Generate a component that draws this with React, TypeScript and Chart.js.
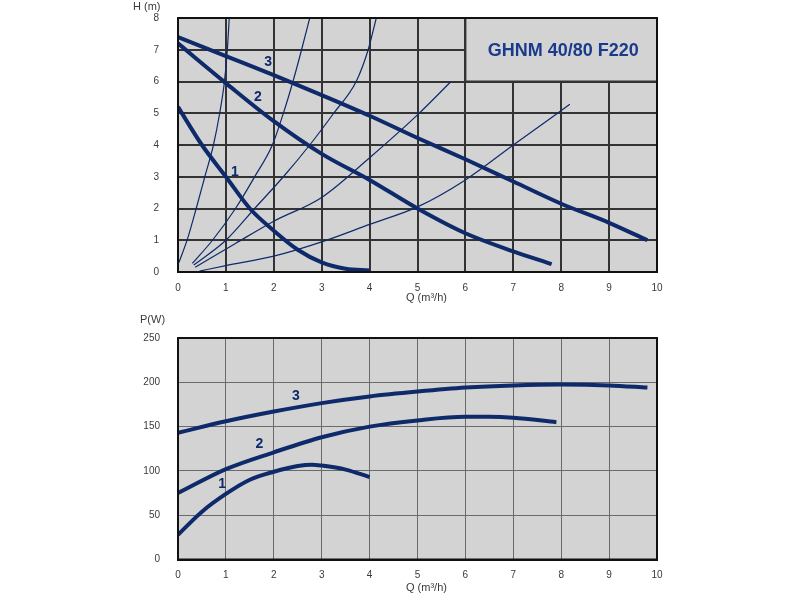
import React, { useEffect, useRef } from "react";
import { Chart, registerables } from "chart.js";

Chart.register(...registerables);

// ---------- Data: H(Q) chart ----------
const qTicks = [0, 1, 2, 3, 4, 5, 6, 7, 8, 9, 10];
const hTicks = [0, 1, 2, 3, 4, 5, 6, 7, 8];
const pTicks = [0, 50, 100, 150, 200, 250];

// speed curves (thick)
const h1Q = [0, 0.5, 1, 1.5, 2, 2.5, 3, 3.5, 4];
const h1H = [5.2, 4.0, 3.0, 2.0, 1.3, 0.7, 0.3, 0.1, 0.05];
const h2Q = [0, 1, 2, 3, 4, 5, 6, 7, 7.8];
const h2H = [7.2, 5.95, 4.75, 3.72, 2.9, 2.0, 1.22, 0.65, 0.25];
const h3Q = [0, 1, 2, 3, 4, 5, 6, 7, 8, 9, 9.8];
const h3H = [7.4, 6.8, 6.2, 5.57, 4.92, 4.22, 3.55, 2.85, 2.15, 1.55, 1.0];

// system curves (thin)
const sAQ = [0.02, 0.2, 0.38, 0.56, 0.74, 0.87, 0.97, 1.03, 1.07];
const sAH = [0.3, 1.05, 2.0, 3.0, 4.0, 5.0, 6.0, 7.0, 8.0];
const sBQ = [0.3, 0.72, 1.2, 1.6, 1.97, 2.2, 2.4, 2.58, 2.75];
const sBH = [0.27, 1.0, 2.0, 3.0, 4.0, 5.0, 6.0, 7.0, 8.0];
const sCQ = [0.33, 1.0, 1.6, 2.2, 2.75, 3.25, 3.72, 3.97, 4.14];
const sCH = [0.22, 1.0, 2.0, 3.0, 4.0, 5.0, 6.0, 7.0, 8.0];
const sDQ = [0.36, 1.2, 2.0, 3.0, 4.0, 5.0, 5.7];
const sDH = [0.15, 0.9, 1.6, 2.35, 3.6, 4.95, 6.0];
const sEQ = [0.45, 1.0, 2.0, 3.0, 4.0, 5.0, 6.0, 7.0, 8.18];
const sEH = [0.03, 0.2, 0.5, 0.95, 1.5, 2.05, 2.9, 4.0, 5.28];

// ---------- Data: P(Q) chart ----------
const p1Q = [0, 0.5, 1, 1.5, 2, 2.5, 2.8, 3, 3.5, 4];
const p1P = [28, 54, 74, 90, 99, 105.5, 107, 106, 101.5, 93];
const p2Q = [0, 1, 2, 3, 4, 5, 6, 6.5, 7, 7.9];
const p2P = [75, 102, 121, 138, 150, 157, 161, 161, 160, 155];
const p3Q = [0, 1, 2, 3, 4, 5, 6, 7, 8, 9, 9.8];
const p3P = [143, 156, 167, 176.5, 184, 189.5, 194, 196.5, 197.5, 196.5, 194];

// labels for curves
const curveNames = ["1", "2", "3"];
const hLabelQ = [1.19, 1.67, 1.88];
const hLabelH = [3.15, 5.5, 6.6];
const pLabelQ = [0.92, 1.7, 2.46];
const pLabelP = [85, 130, 184];

const titleText = "GHNM 40/80 F220";
const titleBoxQ = [6, 10];
const titleBoxH = [6, 8];

const NAVY = "#0f2a6b";
const FONT = "'Liberation Sans', Arial, sans-serif";

const pts = (xs: number[], ys: number[]) => xs.map((x, i) => ({ x, y: ys[i] }));

function lineDs(xs: number[], ys: number[], width: number) {
  return {
    data: pts(xs, ys),
    borderColor: NAVY,
    backgroundColor: NAVY,
    borderWidth: width,
    pointRadius: 0,
    fill: false,
    showLine: true,
    cubicInterpolationMode: "monotone" as const,
    borderCapStyle: "butt" as const,
  };
}

const bgPlugin = {
  id: "plotBg",
  beforeDraw(chart: any) {
    const { ctx, chartArea: a } = chart;
    ctx.save();
    ctx.fillStyle = "#d3d3d3";
    ctx.fillRect(a.left, a.top, a.right - a.left, a.bottom - a.top);
    ctx.restore();
  },
};

function makeScales(yMax: number, yStep: number, gridColor: string, gridWidth: number, yPad: number, xPad: number, yWidth: number, xHeight: number) {
  return {
    x: {
      type: "linear" as const,
      min: 0,
      max: 10,
      ticks: {
        stepSize: 1,
        padding: xPad,
        color: "#3a3a3a",
        font: { family: FONT, size: 10 },
        maxRotation: 0,
      },
      grid: { color: gridColor, lineWidth: gridWidth, drawTicks: false },
      border: { display: true, color: "#111", width: 2 },
      afterFit: (s: any) => {
        s.height = xHeight;
        s.paddingLeft = 0;
        s.paddingRight = 0;
      },
    },
    y: {
      type: "linear" as const,
      min: 0,
      max: yMax,
      ticks: {
        stepSize: yStep,
        padding: yPad,
        color: "#3a3a3a",
        font: { family: FONT, size: 10 },
      },
      grid: { color: gridColor, lineWidth: gridWidth, drawTicks: false },
      border: { display: true, color: "#111", width: 2 },
      afterFit: (s: any) => {
        s.width = yWidth;
        s.paddingTop = 0;
        s.paddingBottom = 0;
      },
    },
  };
}

const frameBorderPlugin = {
  id: "frameBorder",
  afterDraw(chart: any) {
    const { ctx, chartArea: a } = chart;
    ctx.save();
    ctx.strokeStyle = "#111";
    ctx.lineWidth = 2;
    ctx.strokeRect(a.left, a.top, a.right - a.left, a.bottom - a.top);
    ctx.restore();
  },
};

export default function App() {
  const topRef = useRef<HTMLCanvasElement>(null);
  const botRef = useRef<HTMLCanvasElement>(null);

  useEffect(() => {
    const topAnno = {
      id: "topAnno",
      beforeDatasetsDraw(chart: any) {
        const { ctx } = chart;
        const xs = chart.scales.x;
        const ys = chart.scales.y;
        const x0 = xs.getPixelForValue(titleBoxQ[0]);
        const x1 = xs.getPixelForValue(titleBoxQ[1]);
        const y0 = ys.getPixelForValue(titleBoxH[1]);
        const y1 = ys.getPixelForValue(titleBoxH[0]);
        ctx.save();
        ctx.fillStyle = "#d3d3d3";
        ctx.fillRect(x0, y0, x1 - x0, y1 - y0);
        ctx.strokeStyle = "#333";
        ctx.lineWidth = 2;
        ctx.strokeRect(x0, y0, x1 - x0, y1 - y0);
        ctx.fillStyle = "#1a3a8c";
        ctx.font = `bold 18px ${FONT}`;
        ctx.textAlign = "center";
        ctx.textBaseline = "middle";
        ctx.fillText(titleText, (x0 + x1) / 2 + 2, (y0 + y1) / 2 + 1);
        ctx.restore();
      },
      afterDatasetsDraw(chart: any) {
        const { ctx } = chart;
        const xs = chart.scales.x;
        const ys = chart.scales.y;
        ctx.save();
        ctx.fillStyle = NAVY;
        ctx.font = `bold 14px ${FONT}`;
        ctx.textAlign = "center";
        ctx.textBaseline = "middle";
        curveNames.forEach((n, i) => {
          ctx.fillText(n, xs.getPixelForValue(hLabelQ[i]), ys.getPixelForValue(hLabelH[i]));
        });
        ctx.fillStyle = "#3a3a3a";
        ctx.font = `11px ${FONT}`;
        ctx.textAlign = "left";
        ctx.fillText("H (m)", 133, 7);
        ctx.fillText("Q (m³/h)", 406, 298);
        ctx.restore();
      },
    };

    const botAnno = {
      id: "botAnno",
      afterDatasetsDraw(chart: any) {
        const { ctx } = chart;
        const xs = chart.scales.x;
        const ys = chart.scales.y;
        ctx.save();
        ctx.fillStyle = NAVY;
        ctx.font = `bold 14px ${FONT}`;
        ctx.textAlign = "center";
        ctx.textBaseline = "middle";
        curveNames.forEach((n, i) => {
          ctx.fillText(n, xs.getPixelForValue(pLabelQ[i]), ys.getPixelForValue(pLabelP[i]));
        });
        ctx.fillStyle = "#3a3a3a";
        ctx.font = `11px ${FONT}`;
        ctx.textAlign = "left";
        ctx.fillText("P(W)", 140, 15);
        ctx.fillText("Q (m³/h)", 406, 283);
        ctx.restore();
      },
    };

    const top = new Chart(topRef.current!, {
      type: "scatter",
      data: {
        datasets: [
          lineDs(sAQ, sAH, 1.2),
          lineDs(sBQ, sBH, 1.2),
          lineDs(sCQ, sCH, 1.2),
          lineDs(sDQ, sDH, 1.2),
          lineDs(sEQ, sEH, 1.2),
          lineDs(h1Q, h1H, 4),
          lineDs(h2Q, h2H, 4),
          lineDs(h3Q, h3H, 4),
        ],
      },
      options: {
        animation: false,
        responsive: false,
        devicePixelRatio: 1,
        layout: { padding: { top: 18, right: 143, left: 0, bottom: 0 } },
        plugins: { legend: { display: false }, tooltip: { enabled: false } },
        scales: makeScales(8, 1, "#333333", 2, 19, 10, 178, 33) as any,
      },
      plugins: [bgPlugin, topAnno, frameBorderPlugin],
    });

    const bot = new Chart(botRef.current!, {
      type: "scatter",
      data: {
        datasets: [lineDs(p1Q, p1P, 4), lineDs(p2Q, p2P, 4), lineDs(p3Q, p3P, 4)],
      },
      options: {
        animation: false,
        responsive: false,
        devicePixelRatio: 1,
        layout: { padding: { top: 33, right: 143, left: 0, bottom: 0 } },
        plugins: { legend: { display: false }, tooltip: { enabled: false } },
        scales: makeScales(250, 50, "#6a6a6a", 1, 18, 10, 178, 40.5) as any,
      },
      plugins: [bgPlugin, botAnno, frameBorderPlugin],
    });

    return () => {
      top.destroy();
      bot.destroy();
    };
  }, []);

  return (
    <div style={{ position: "fixed", left: 0, top: 0, width: 800, height: 600, background: "#fff" }}>
      <canvas ref={topRef} width={800} height={305} style={{ position: "absolute", left: 0, top: 0, width: 800, height: 305 }} />
      <canvas ref={botRef} width={800} height={295} style={{ position: "absolute", left: 0, top: 305, width: 800, height: 295 }} />
    </div>
  );
}
